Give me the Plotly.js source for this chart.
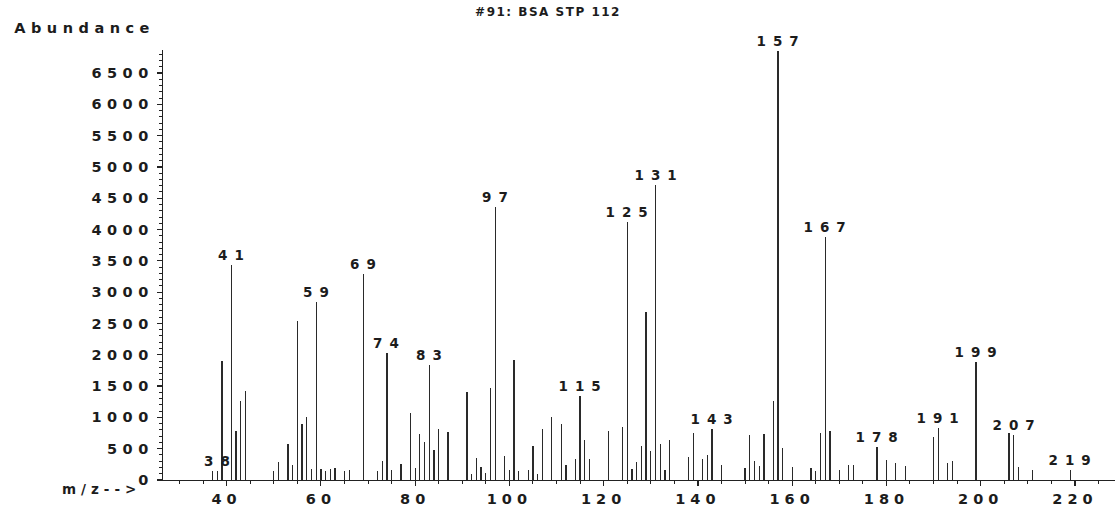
<!DOCTYPE html>
<html>
<head>
<meta charset="utf-8">
<script src="https://cdn.plot.ly/plotly-3.0.1.min.js"></script>
<style>
  html, body { margin: 0; padding: 0; background: #ffffff; }
  #chart { width: 1115px; height: 507px; }
  .ytick text { letter-spacing: 5.5px; }
  .xtick text { letter-spacing: 5px; }
  g.annotation text { letter-spacing: 7px; }
  g.annotation[data-index="0"] text { letter-spacing: 5.5px; }
  g.annotation[data-index="1"] text { letter-spacing: 5px; }
  .gtitle { letter-spacing: 1.5px; }
</style>
</head>
<body>
<div id="chart"></div>
<script>
// m/z values of the spectrum lines
const mz = [37, 38, 39, 41, 42, 43, 44, 50, 51, 53, 54, 55, 56, 57, 58, 59, 60, 61, 62, 63,
  65, 66, 69, 72, 73, 74, 75, 77, 79, 80, 81, 82, 83, 84, 85, 87, 91, 92, 93, 94,
  95, 96, 97, 99, 100, 101, 102, 104, 105, 106, 107, 109, 111, 112, 114, 115, 116, 117, 121, 124,
  125, 126, 127, 128, 129, 130, 131, 132, 133, 134, 138, 139, 141, 142, 143, 145, 150, 151, 152, 153,
  154, 156, 157, 158, 160, 164, 165, 166, 167, 168, 170, 172, 173, 178, 180, 182, 184, 190, 191, 193,
  194, 199, 206, 207, 208, 211, 219];

// abundance of each line
const abundance = [140, 150, 1895, 3440, 778, 1267, 1415, 141, 295, 570, 243, 2537, 895, 1012, 175, 2840, 175, 150, 170, 195,
  140, 165, 3292, 150, 310, 2026, 160, 255, 1073, 190, 737, 604, 1841, 485, 817, 764, 1413, 100, 350, 210,
  110, 1469, 4355, 390, 162, 1920, 150, 155, 551, 100, 817, 1003, 891, 232, 338, 1349, 631, 338, 777, 854,
  4115, 179, 284, 551, 2680, 457, 4716, 578, 157, 642, 375, 751, 335, 402, 817, 232, 195, 718, 311, 224,
  742, 1261, 6850, 512, 204, 195, 140, 748, 3876, 780, 152, 232, 232, 535, 325, 268, 218, 680, 830, 270,
  311, 1882, 751, 725, 210, 162, 156];

// lines that carry an m/z label
const labelledMz = [38, 41, 59, 69, 74, 83, 97, 115, 125, 131, 143, 157, 167, 178, 191, 199, 207, 219];

const titleText = "#91: BSA STP 112";
const yLabel = "Abundance";
const xLabel = "m/z-->";

const ink = "#1c1c1c";
const fam = "DejaVu Sans, Liberation Sans, Arial, sans-serif";

const trace = {
  type: "bar",
  x: mz,
  y: abundance,
  width: 0.27,
  marker: { color: "#2a2a2a", line: { width: 0 } },
  hoverinfo: "x+y"
};

const annotations = [
  {
    text: yLabel, xref: "paper", yref: "paper", x: -0.0822, y: 1.0512,
    xanchor: "center", yanchor: "middle", showarrow: false,
    font: { family: fam, size: 14.5, color: ink, weight: "bold" }
  },
  {
    text: xLabel, xref: "paper", yref: "paper", x: -0.0651, y: -0.0215,
    xanchor: "center", yanchor: "middle", showarrow: false,
    font: { family: fam, size: 13.5, color: ink, weight: "bold" }
  }
];

labelledMz.forEach(function (m) {
  const i = mz.indexOf(m);
  annotations.push({
    text: String(m), x: m, y: abundance[i], xref: "x", yref: "y",
    xanchor: "center", yanchor: "bottom", showarrow: false,
    yshift: 0, xshift: 3,
    font: { family: fam, size: 13.5, color: ink, weight: "bold" }
  });
});

const layout = {
  width: 1115,
  height: 507,
  margin: { l: 163, r: 0, t: 50, b: 27, pad: 0 },
  paper_bgcolor: "#ffffff",
  plot_bgcolor: "#ffffff",
  showlegend: false,
  bargap: 0,
  title: {
    text: titleText,
    xref: "container", yref: "container",
    x: 0.4915, xanchor: "center",
    y: 0.976, yanchor: "middle",
    font: { family: fam, size: 12, color: ink, weight: "bold" }
  },
  xaxis: {
    range: [26.5, 228.5],
    tick0: 0, dtick: 20,
    ticks: "outside", ticklen: 5, tickwidth: 1.2, tickcolor: "#222",
    minor: { dtick: 5, tick0: 0, ticks: "outside", ticklen: 3, tickwidth: 1, tickcolor: "#222" },
    showline: true, linecolor: "#222", linewidth: 1.3,
    showgrid: false, zeroline: false,
    tickfont: { family: fam, size: 14.5, color: ink, weight: "bold" },
    fixedrange: true
  },
  yaxis: {
    range: [0, 6867],
    tick0: 0, dtick: 500,
    ticks: "outside", ticklen: 5, tickwidth: 1.2, tickcolor: "#222",
    minor: { dtick: 100, tick0: 0, ticks: "outside", ticklen: 3, tickwidth: 1, tickcolor: "#222" },
    showline: true, linecolor: "#222", linewidth: 1.3,
    showgrid: false, zeroline: false,
    tickfont: { family: fam, size: 14.5, color: ink, weight: "bold" },
    fixedrange: true
  },
  annotations: annotations
};

Plotly.newPlot("chart", [trace], layout, { displayModeBar: false, staticPlot: true });
</script>
</body>
</html>
